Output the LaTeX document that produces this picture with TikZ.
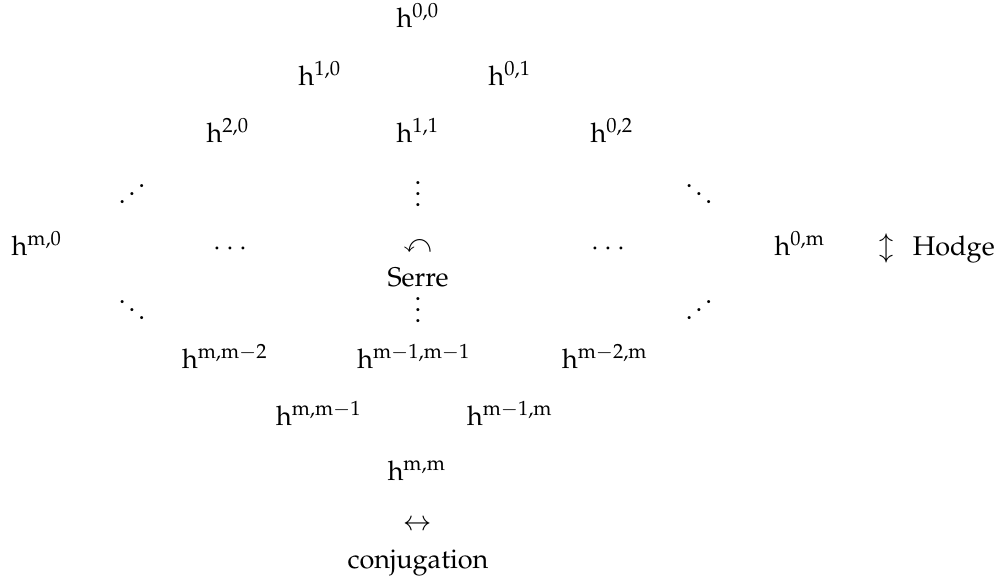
\documentclass[tikz,border=0pt]{standalone}
\usepackage[T1]{fontenc}
\usepackage{mathpazo}
\usepackage{amssymb}
\usepackage{graphicx}
\newcommand{\hx}{\mathrm{h}}
\newcommand{\mx}{\mathrm{m}}
\tikzset{t/.style={inner sep=0pt, anchor=base}}
\begin{document}
\begin{tikzpicture}[x=0.37pt, y=-0.37pt]
\useasboundingbox (0,0) rectangle (1000,579);
% rows of h
\node[t] (h00) at (418,27) {$\hx^{0,0}$};
\node[t] (h10) at (320,85) {$\hx^{1,0}$};
\node[t] (h01) at (510,85) {$\hx^{0,1}$};
\node[t] (h20) at (228,142) {$\hx^{2,0}$};
\node[t] (h11) at (418,142) {$\hx^{1,1}$};
\node[t] (h02) at (612,142) {$\hx^{0,2}$};
% upper dots
\node[t] (ud1) at (132,206) {\reflectbox{$\ddots$}};
\node[t] (ud2) at (418,206) {$\vdots$};
\node[t] (ud3) at (699,206) {$\ddots$};
% middle row
\node[t] (hm0) at (37,255) {$\hx^{\mx,0}$};
\node[t] (md1) at (230,255) {$\cdots$};
\node[t] (ser) at (418,252) {$\curvearrowleft$};
\node[t] (serl) at (418,286) {Serre};
\node[t] (md2) at (608,255) {$\cdots$};
\node[t] (h0m) at (800,255) {$\hx^{0,\mx}$};
\node[t] (hod) at (937,255) {$\updownarrow$\kern7pt Hodge};
% lower dots
\node[t] (ld1) at (132,322) {$\ddots$};
\node[t] (ld2) at (418,322) {$\vdots$};
\node[t] (ld3) at (699,322) {\reflectbox{$\ddots$}};
% lower rows
\node[t] (hmm2) at (225,368) {$\hx^{\mx,\mx-2}$};
\node[t] (hm1m1) at (414,368) {$\hx^{\mx-1,\mx-1}$};
\node[t] (hm2m) at (605,368) {$\hx^{\mx-2,\mx}$};
\node[t] (hmm1) at (319,425) {$\hx^{\mx,\mx-1}$};
\node[t] (hm1m) at (510,425) {$\hx^{\mx-1,\mx}$};
\node[t] (hmm) at (417,480) {$\hx^{\mx,\mx}$};
\node[t] (conj) at (418,530) {$\leftrightarrow$};
\node[t] (conjl) at (418,568) {conjugation};
\end{tikzpicture}
\end{document}
